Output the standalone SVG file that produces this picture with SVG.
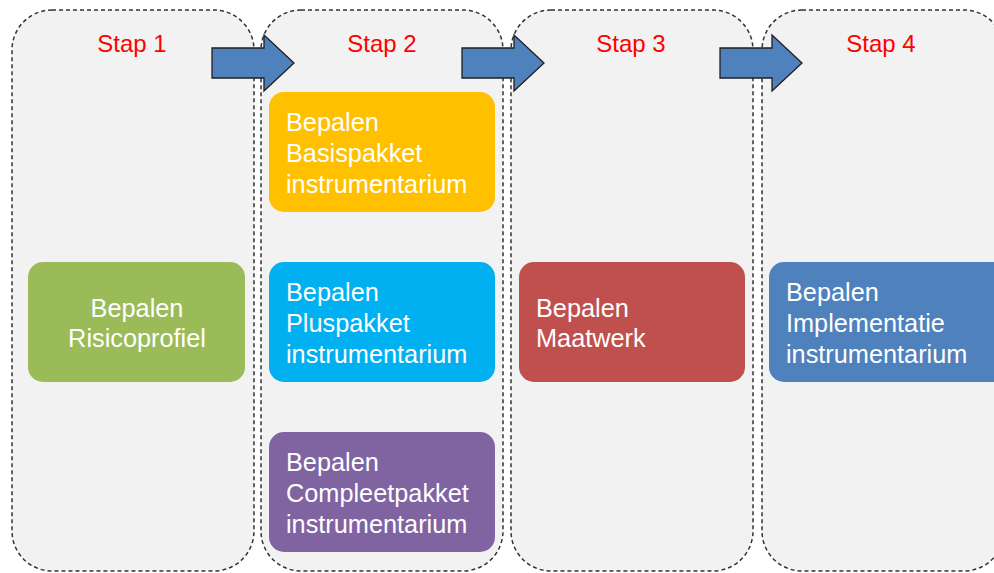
<svg xmlns="http://www.w3.org/2000/svg" width="994" height="573" viewBox="0 0 994 573">
<style>
.col{fill:#F2F2F2;stroke:#333;stroke-width:1.5;stroke-dasharray:4 3}
.stap{font-family:"Liberation Sans",Arial,sans-serif;font-size:24px;fill:#FF0000;text-anchor:middle}
.lbl{font-family:"Liberation Sans",Arial,sans-serif;font-size:25.3px;fill:#FFFFFF}
.arr{fill:#4F81BD;stroke:#1F1F1F;stroke-width:1.3}
</style>
<rect width="994" height="573" fill="#FFFFFF"/>
<g id="stap1">
<rect class="col" x="12" y="10" width="242" height="561" rx="40"/>
<text class="stap" x="132" y="52">Stap 1</text>
</g>
<g id="stap2">
<rect class="col" x="261" y="10" width="242" height="561" rx="40"/>
<text class="stap" x="382" y="52">Stap 2</text>
</g>
<g id="stap3">
<rect class="col" x="511" y="10" width="242" height="561" rx="40"/>
<text class="stap" x="631" y="52">Stap 3</text>
</g>
<g id="stap4">
<rect class="col" x="762" y="10" width="242" height="561" rx="40"/>
<text class="stap" x="881" y="52">Stap 4</text>
</g>
<g id="connectors">
<path class="arr" d="M212,48 H264 V35 L294,63 L264,91 V78 H212 Z"/>
<path class="arr" d="M462,48 H514 V35 L544,63 L514,91 V78 H462 Z"/>
<path class="arr" d="M720,48 H772 V35 L802,63 L772,91 V78 H720 Z"/>
</g>
<g id="risicoprofiel">
<rect x="28" y="262" width="217" height="120" rx="15" fill="#9BBB59"/>
<text class="lbl" x="137" y="317" text-anchor="middle">Bepalen</text>
<text class="lbl" x="137" y="347" text-anchor="middle">Risicoprofiel</text>
</g>
<g id="basispakket">
<rect x="269" y="92" width="226" height="120" rx="15" fill="#FFC000"/>
<text class="lbl" x="286" y="131">Bepalen</text>
<text class="lbl" x="286" y="162">Basispakket</text>
<text class="lbl" x="286" y="193">instrumentarium</text>
</g>
<g id="pluspakket">
<rect x="269" y="262" width="226" height="120" rx="15" fill="#00B0F0"/>
<text class="lbl" x="286" y="301">Bepalen</text>
<text class="lbl" x="286" y="332">Pluspakket</text>
<text class="lbl" x="286" y="363">instrumentarium</text>
</g>
<g id="compleetpakket">
<rect x="269" y="432" width="226" height="120" rx="15" fill="#8064A2"/>
<text class="lbl" x="286" y="471">Bepalen</text>
<text class="lbl" x="286" y="502">Compleetpakket</text>
<text class="lbl" x="286" y="533">instrumentarium</text>
</g>
<g id="maatwerk">
<rect x="519" y="262" width="226" height="120" rx="15" fill="#C0504D"/>
<text class="lbl" x="536" y="317">Bepalen</text>
<text class="lbl" x="536" y="347">Maatwerk</text>
</g>
<g id="implementatie">
<rect x="769" y="262" width="240" height="120" rx="15" fill="#4F81BD"/>
<text class="lbl" x="786" y="301">Bepalen</text>
<text class="lbl" x="786" y="332">Implementatie</text>
<text class="lbl" x="786" y="363">instrumentarium</text>
</g>
</svg>
